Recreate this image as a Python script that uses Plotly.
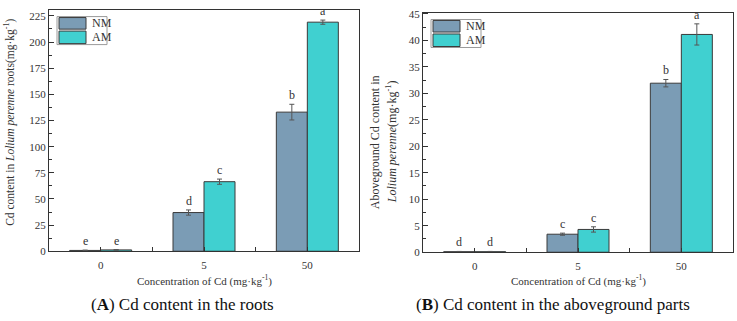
import plotly.graph_objects as go

W, H = 737, 321

categories = ["0", "5", "50"]

# Panel A: Cd content in roots
roots_nm = [0.8, 37.0, 133.0]
roots_nm_err = [0.3, 2.5, 7.5]
roots_am = [1.3, 66.5, 219.0]
roots_am_err = [0.3, 2.5, 2.0]
roots_nm_letters = ["e", "d", "b"]
roots_am_letters = ["e", "c", "a"]

# Panel B: Cd content in aboveground parts
shoot_nm = [0.1, 3.4, 31.9]
shoot_nm_err = [0.05, 0.2, 0.7]
shoot_am = [0.1, 4.3, 41.1]
shoot_am_err = [0.05, 0.5, 2.0]
shoot_nm_letters = ["d", "c", "b"]
shoot_am_letters = ["d", "c", "a"]

NM_COLOR = "#7b9cb5"
AM_COLOR = "#40d0d0"
EDGE = "#3a3a3a"
FONT = "Liberation Serif"

# pixel layout helpers
def px_x(p):
    return p / W

def px_y(p):
    return 1 - p / H

panels = [
    dict(xa="x", ya="y", xd=(49, 359), yd=(5, 255), yrange=[0, 230.8], dtick=25,
         nm=roots_nm, nme=roots_nm_err, am=roots_am, ame=roots_am_err,
         nml=roots_nm_letters, aml=roots_am_letters),
    dict(xa="x2", ya="y2", xd=(423, 733), yd=(8, 256), yrange=[0, 45.2], dtick=5,
         nm=shoot_nm, nme=shoot_nm_err, am=shoot_am, ame=shoot_am_err,
         nml=shoot_nm_letters, aml=shoot_am_letters),
]

fig = go.Figure()
xs = list(range(len(categories)))
bw = 0.3

annotations = []
shapes = []
for i, p in enumerate(panels):
    fig.add_trace(go.Bar(
        x=xs, y=p["nm"], name="NM", width=bw, offset=-bw,
        marker=dict(color=NM_COLOR, line=dict(color=EDGE, width=1)),
        error_y=dict(type="data", array=p["nme"], color="#555555", thickness=1, width=2.5),
        xaxis=p["xa"], yaxis=p["ya"], showlegend=False,
    ))
    fig.add_trace(go.Bar(
        x=xs, y=p["am"], name="AM", width=bw, offset=0,
        marker=dict(color=AM_COLOR, line=dict(color=EDGE, width=1)),
        error_y=dict(type="data", array=p["ame"], color="#555555", thickness=1, width=2.5),
        xaxis=p["xa"], yaxis=p["ya"], showlegend=False,
    ))
    for j in xs:
        for val, err, lab, off in ((p["nm"][j], p["nme"][j], p["nml"][j], -bw / 2),
                                   (p["am"][j], p["ame"][j], p["aml"][j], bw / 2)):
            annotations.append(dict(
                x=j + off, y=val + err, xref=p["xa"], yref=p["ya"], text=lab,
                showarrow=False, xanchor="center", yanchor="bottom",
                font=dict(family=FONT, size=12, color="#333333"),
            ))
    # custom legend
    xr = p["xa"] + " domain"
    yr = p["ya"] + " domain"
    dw = p["xd"][1] - p["xd"][0]
    dh = p["yd"][1] - p["yd"][0]

    def rx(px, dw=dw):
        return px / dw

    def ry(py, dh=dh):
        return 1 - py / dh

    shapes.append(dict(type="rect", xref=xr, yref=yr, x0=rx(8), x1=rx(58), y0=ry(7), y1=ry(36),
                       line=dict(color="#9a9a9a", width=1), fillcolor="white"))
    shapes.append(dict(type="rect", xref=xr, yref=yr, x0=rx(10), x1=rx(37), y0=ry(8), y1=ry(20),
                       line=dict(color=EDGE, width=1), fillcolor=NM_COLOR))
    shapes.append(dict(type="rect", xref=xr, yref=yr, x0=rx(10), x1=rx(37), y0=ry(22), y1=ry(35),
                       line=dict(color=EDGE, width=1), fillcolor=AM_COLOR))
    annotations.append(dict(x=rx(41), y=ry(14), xref=xr, yref=yr, text="NM", showarrow=False,
                            xanchor="left", yanchor="middle",
                            font=dict(family=FONT, size=12, color="#333333")))
    annotations.append(dict(x=rx(41), y=ry(28.5), xref=xr, yref=yr, text="AM", showarrow=False,
                            xanchor="left", yanchor="middle",
                            font=dict(family=FONT, size=12, color="#333333")))

axis_common = dict(showline=True, linecolor="#333333", linewidth=1, mirror=True,
                   ticks="inside", tickcolor="#333333", showgrid=False, zeroline=False,
                   tickfont=dict(family=FONT, size=11, color="#333333"))

for i, p in enumerate(panels):
    sfx = "" if i == 0 else "2"
    fig.layout["xaxis" + sfx] = dict(
        axis_common, domain=[px_x(p["xd"][0]), px_x(p["xd"][1])], range=[-0.5, 2.5],
        tickvals=xs, ticktext=categories, ticklen=4, anchor="y" + sfx,
        ticklabelstandoff=4,
        minor=dict(tickvals=[0.5, 1.5], ticks="inside", ticklen=4, tickcolor="#333333"),
    )
    fig.layout["yaxis" + sfx] = dict(
        axis_common, domain=[px_y(p["yd"][1]), px_y(p["yd"][0])], range=p["yrange"],
        dtick=p["dtick"], ticklen=5, anchor="x" + sfx,
        minor=dict(dtick=p["dtick"] / 2, ticks="inside", ticklen=3, tickcolor="#333333"),
    )
    xc = px_x((p["xd"][0] + p["xd"][1]) / 2)
    annotations.append(dict(
        x=xc, y=px_y(285), xref="paper", yref="paper", showarrow=False,
        text="Concentration of Cd (mg·kg<sup>-1</sup>)",
        font=dict(family=FONT, size=11, color="#333333"), xanchor="center", yanchor="middle",
    ))

annotations.append(dict(x=px_x(182), y=px_y(310), xref="paper", yref="paper", showarrow=False,
                        text="(<b>A</b>) Cd content in the roots",
                        font=dict(family=FONT, size=17, color="#111111"),
                        xanchor="center", yanchor="middle"))
annotations.append(dict(x=px_x(553), y=px_y(310), xref="paper", yref="paper", showarrow=False,
                        text="(<b>B</b>) Cd content in the aboveground parts",
                        font=dict(family=FONT, size=17, color="#111111"),
                        xanchor="center", yanchor="middle"))
annotations.append(dict(x=px_x(10), y=px_y(122), xref="paper", yref="paper", showarrow=False,
                        textangle=-90,
                        text="Cd content in <i>Lolium perenne</i> roots(mg·kg<sup>-1</sup>)",
                        font=dict(family=FONT, size=11.5, color="#333333"),
                        xanchor="center", yanchor="middle"))
annotations.append(dict(x=px_x(375), y=px_y(142), xref="paper", yref="paper", showarrow=False,
                        textangle=-90, text="Aboveground Cd content in",
                        font=dict(family=FONT, size=12, color="#333333"),
                        xanchor="center", yanchor="middle"))
annotations.append(dict(x=px_x(391), y=px_y(142), xref="paper", yref="paper", showarrow=False,
                        textangle=-90, text="<i>Lolium perenne</i>(mg·kg<sup>-1</sup>)",
                        font=dict(family=FONT, size=12, color="#333333"),
                        xanchor="center", yanchor="middle"))

fig.update_layout(
    width=W, height=H, margin=dict(l=0, r=0, t=0, b=0),
    paper_bgcolor="white", plot_bgcolor="white",
    barmode="overlay", showlegend=False,
    annotations=annotations, shapes=shapes,
)

fig.write_html("out.html")
